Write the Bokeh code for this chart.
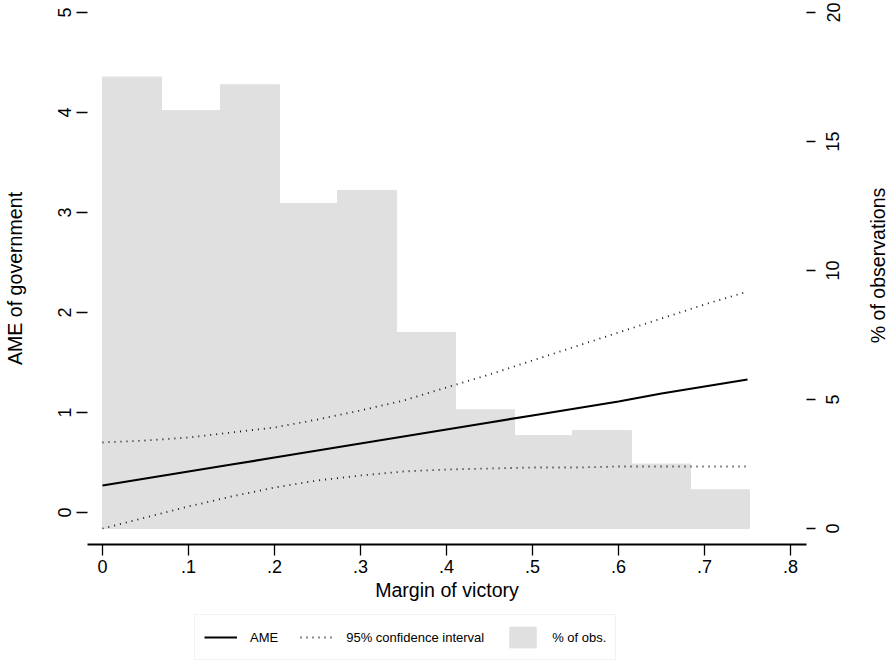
import math
from bokeh.plotting import figure
from bokeh.layouts import row, column
from bokeh.models import (Range1d, LinearAxis, FixedTicker, CustomJSTickFormatter,
                          Legend, LegendItem, Label)
from bokeh.embed import file_html
from bokeh.resources import INLINE

# ---------------- data ----------------
margin_x = [0.00, 0.05, 0.10, 0.15, 0.20, 0.25, 0.30, 0.35,
            0.40, 0.45, 0.50, 0.55, 0.60, 0.65, 0.70, 0.75]
ame = [0.27, 0.34, 0.41, 0.48, 0.55, 0.62, 0.69, 0.76,
       0.83, 0.90, 0.97, 1.04, 1.11, 1.19, 1.26, 1.33]
ci_upper = [0.70, 0.72, 0.75, 0.80, 0.85, 0.93, 1.02, 1.12,
            1.25, 1.38, 1.52, 1.66, 1.80, 1.94, 2.08, 2.21]
ci_lower = [-0.16, -0.05, 0.06, 0.16, 0.25, 0.32, 0.37, 0.41,
            0.43, 0.44, 0.45, 0.45, 0.46, 0.46, 0.46, 0.46]

bin_edges = [0.0, 0.0686, 0.1372, 0.2058, 0.2733, 0.3419, 0.4105,
             0.4791, 0.5465, 0.6151, 0.6837, 0.7523]
pct_obs = [17.5, 16.2, 17.2, 12.6, 13.1, 7.6, 4.6, 3.6, 3.8, 2.5, 1.5]

x_ticks = [0, 0.1, 0.2, 0.3, 0.4, 0.5, 0.6, 0.7, 0.8]
left_ticks = [0, 1, 2, 3, 4, 5]
right_ticks = [0, 5, 10, 15, 20]

x_title = "Margin of victory"
left_title = "AME of government"
right_title = "% of observations"
legend_labels = ["AME", "95% confidence interval", "% of obs."]

# ---------------- styling ----------------
FONT = "Liberation Sans"
TICK_FS = "18px"
TITLE_FS = "19.6px"
BAR = "#e0e0e0"
DOT = "1 5"

MAIN_W, SIDE_W, TOP_H, LEG_H = 816, 72, 608, 54
PCT_RANGE = (-0.62, 20.0)


def clean(fig):
    fig.xgrid.visible = False
    fig.ygrid.visible = False
    fig.outline_line_color = None
    fig.background_fill_color = "white"
    fig.border_fill_color = "white"


def style_axis(ax):
    ax.major_label_text_font = FONT
    ax.major_label_text_font_size = TICK_FS
    ax.major_label_text_color = "black"
    ax.major_tick_line_color = "black"
    ax.major_tick_line_width = 1.3
    ax.minor_tick_line_color = None
    ax.major_tick_in = 0
    ax.axis_label_text_font = FONT
    ax.axis_label_text_font_size = TITLE_FS
    ax.axis_label_text_font_style = "normal"
    ax.axis_label_text_color = "black"


def draw_series(fig, pct_range_name=None):
    kw = {} if pct_range_name is None else {"y_range_name": pct_range_name}
    bars = fig.quad(left=bin_edges[:-1], right=bin_edges[1:], bottom=0, top=pct_obs,
                    fill_color=BAR, line_color=BAR, line_width=1, **kw)
    up = fig.line(margin_x, ci_upper, line_color="#111111", line_width=1.8, line_dash=DOT)
    lo = fig.line(margin_x, ci_lower, line_color="#111111", line_width=1.8, line_dash=DOT)
    mid = fig.line(margin_x, ame, line_color="black", line_width=2.2)
    return bars, up, lo, mid


# ================= main plot =================
p = figure(width=MAIN_W, height=TOP_H, output_backend="svg", toolbar_location=None,
           x_range=Range1d(-0.01744, 0.8186), y_range=Range1d(-0.32, 5.0),
           min_border_left=87, min_border_right=10, min_border_top=12,
           min_border_bottom=64, x_axis_location=None, y_axis_location=None)
p.extra_y_ranges = {"pct": Range1d(*PCT_RANGE)}
clean(p)
draw_series(p, "pct")

xax = LinearAxis(ticker=FixedTicker(ticks=x_ticks),
                 formatter=CustomJSTickFormatter(code="""
                     if (Math.abs(tick) < 1e-9) { return "0"; }
                     return tick.toFixed(1).replace(/^0/, "");
                 """))
style_axis(xax)
xax.axis_line_color = "black"
xax.axis_line_width = 1.8
xax.major_tick_out = 11
xax.major_label_standoff = 4
xax.axis_label = x_title
xax.axis_label_standoff = 3
p.add_layout(xax, "below")

lax = LinearAxis(ticker=FixedTicker(ticks=left_ticks))
style_axis(lax)
lax.axis_line_color = None
lax.major_tick_out = 11
lax.major_label_standoff = 6
lax.major_label_orientation = "parallel"
lax.axis_label = left_title
lax.axis_label_standoff = 29
p.add_layout(lax, "left")

# right axis of the main plot: tick marks only
rax = LinearAxis(ticker=FixedTicker(ticks=right_ticks), y_range_name="pct",
                 formatter=CustomJSTickFormatter(code='return "";'))
style_axis(rax)
rax.axis_line_color = None
rax.major_tick_out = 9
rax.major_label_standoff = 0
rax.major_label_text_font_size = "1px"
p.add_layout(rax, "right")

# ================= right side: % axis labels + title =================
s = figure(width=SIDE_W, height=TOP_H, output_backend="svg", toolbar_location=None,
           x_range=Range1d(0, 1), y_range=Range1d(*PCT_RANGE),
           min_border_left=24, min_border_right=0, min_border_top=12,
           min_border_bottom=64, x_axis_location=None, y_axis_location=None)
clean(s)
sax = LinearAxis(ticker=FixedTicker(ticks=right_ticks))
style_axis(sax)
sax.axis_line_color = None
sax.major_tick_out = 0
sax.major_tick_line_color = None
sax.major_label_standoff = 1
sax.major_label_orientation = "parallel"
s.add_layout(sax, "left")
s.add_layout(Label(x=37, y=279, x_units="screen", y_units="screen",
                   text=right_title, angle=math.pi / 2, text_align="center",
                   text_baseline="middle", text_font=FONT,
                   text_font_size=TITLE_FS, text_color="black"))

# ================= legend strip =================
# same series drawn again, but the strip's ranges keep them out of view;
# only their legend samples are shown
lg = figure(width=MAIN_W + SIDE_W, height=LEG_H, output_backend="svg",
            toolbar_location=None, x_range=Range1d(0, 1), y_range=Range1d(100, 101),
            min_border=0, x_axis_location=None, y_axis_location=None)
clean(lg)
k_bar, k_ci, _k_lo, k_ame = draw_series(lg)
legend = Legend(items=[LegendItem(label=legend_labels[0], renderers=[k_ame]),
                       LegendItem(label=legend_labels[1], renderers=[k_ci]),
                       LegendItem(label=legend_labels[2], renderers=[k_bar])],
                orientation="horizontal", location=(194, 2),
                glyph_width=33, glyph_height=26, label_standoff=13, spacing=22,
                padding=9, margin=0, label_height=20,
                border_line_color="#dde8e8", border_line_width=1,
                background_fill_color="white", background_fill_alpha=1,
                label_text_font=FONT, label_text_font_size="13px",
                label_text_color="black")
lg.add_layout(legend, "center")

layout = column(row(p, s), lg)
open("out.html", "w").write(file_html(layout, INLINE))
